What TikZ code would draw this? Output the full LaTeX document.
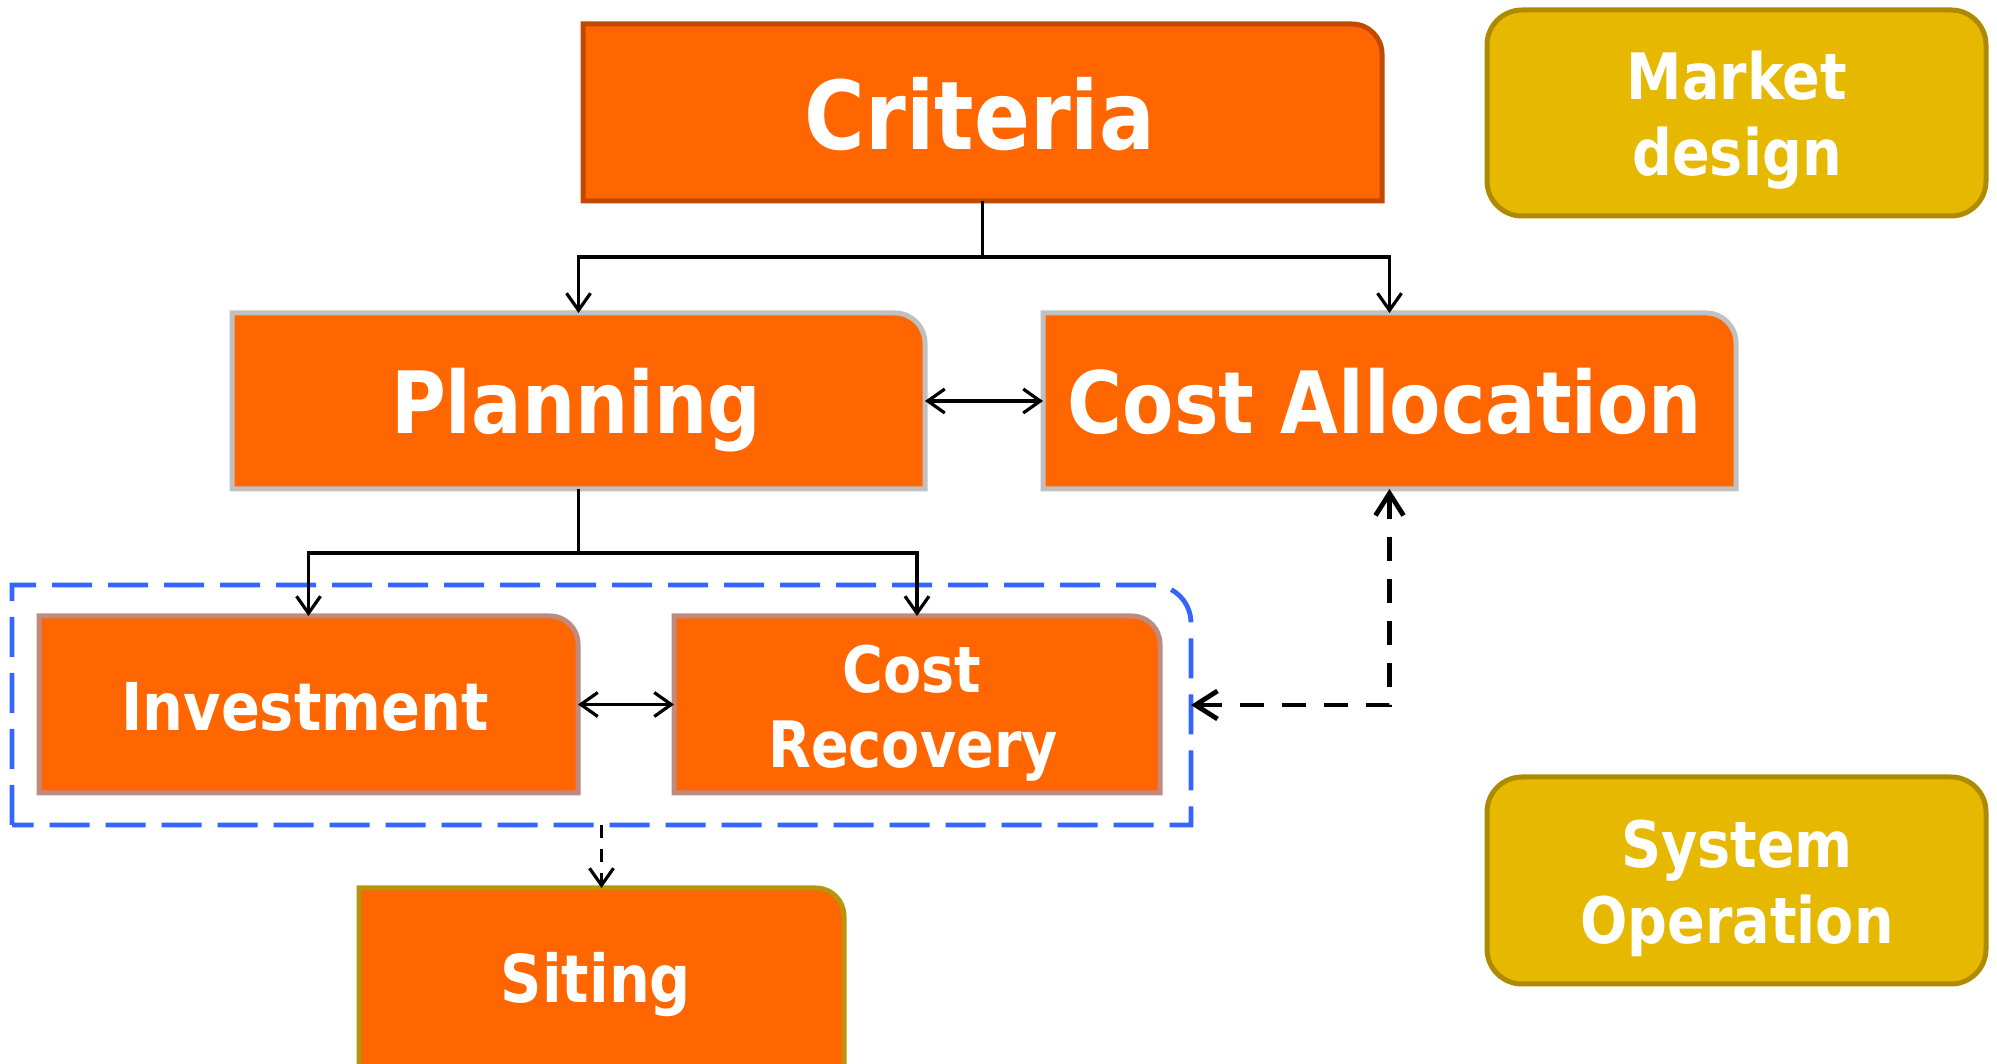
\documentclass[tikz,border=0pt]{standalone}
\usepackage{fontspec}
\usetikzlibrary{arrows.meta,calc}
\newfontfamily\boxfont[FakeStretch=0.87]{DejaVu Sans}

\definecolor{boxorange}{HTML}{FF6600}
\definecolor{critedge}{HTML}{C04A00}
\definecolor{grayedge}{HTML}{C0C0C0}
\definecolor{rosyedge}{HTML}{C08A7E}
\definecolor{oliveedge}{HTML}{B8950A}
\definecolor{goldfill}{HTML}{E6B800}
\definecolor{goldedge}{HTML}{AD8B00}
\definecolor{groupblue}{HTML}{3366FF}

\pgfdeclarelayer{bg}
\pgfsetlayers{bg,main}

% box with only its top-right corner rounded, drawn around a named node
\newcommand\tabshape[3]{%
  \draw[#3] (#1.south west) -- (#1.north west)
    -- ([xshift=-#2]#1.north east) arc[start angle=90,end angle=0,radius=#2]
    -- (#1.south east) -- cycle;}

\tikzset{
  slot/.style 2 args={minimum width=#1,minimum height=#2,inner sep=0pt,outer sep=0pt},
  lbl/.style={text=white,inner sep=0pt,anchor=base,
    font=\boxfont\bfseries\fontsize{#1}{#1}\selectfont},
  orangebox/.style={fill=boxorange,draw=#1,line width=5pt},
  goldbox/.style={fill=goldfill,draw=goldedge,line width=5pt,rounded corners=35pt},
  groupline/.style={draw=groupblue,line width=4.8pt,dash pattern=on 40pt off 16pt},
  wire/.style={draw=black,line width=3.2pt},
  arr/.style={wire,-{Straight Barb[length=17pt,width=24pt]}},
  arrboth/.style={wire,{Straight Barb[length=17pt,width=24pt]}-{Straight Barb[length=17pt,width=24pt]}},
  linkdash/.style={draw=black,line width=4.8pt,dash pattern=on 24pt off 18pt,
    {Straight Barb[length=22pt,width=28pt]}-{Straight Barb[length=22pt,width=28pt]}},
}

\begin{document}
\begin{tikzpicture}[x=1pt,y=1pt]
\useasboundingbox (0,0) rectangle (1997,1063);
\clip (0,0) rectangle (1997,1063);

% frames
\node[slot={799pt}{177pt}] (crit) at (982.5,950.5) {};
\node[slot={499pt}{206pt}] (md) at (1736.5,950) {};
\node[slot={693pt}{176pt}] (plan) at (578.5,662) {};
\node[slot={693pt}{176pt}] (alloc) at (1389.5,662) {};
\node[slot={1179pt}{240pt}] (grp) at (601.5,358) {};
\node[slot={539pt}{177pt}] (inv) at (308.5,358.5) {};
\node[slot={486pt}{177pt}] (rec) at (917,358.5) {};
\node[slot={485pt}{182pt}] (sit) at (601.5,84) {};
\node[slot={499pt}{207pt}] (so) at (1736.5,182.5) {};

\begin{pgfonlayer}{bg}
  \tabshape{crit}{30pt}{orangebox=critedge}
  \tabshape{plan}{30pt}{orangebox=grayedge}
  \tabshape{alloc}{30pt}{orangebox=grayedge}
  \tabshape{inv}{28pt}{orangebox=rosyedge}
  \tabshape{rec}{28pt}{orangebox=rosyedge}
  \tabshape{sit}{28pt}{orangebox=oliveedge}
  \draw[goldbox] (md.south west) rectangle (md.north east);
  \draw[goldbox] (so.south west) rectangle (so.north east);
  \draw[groupline] (grp.south west) -- (grp.north west)
    -- ([xshift=-38pt]grp.north east) arc[start angle=90,end angle=0,radius=38pt]
    -- (grp.south east) -- cycle;
\end{pgfonlayer}

% labels
\node[lbl=95pt] (critT) at (980,913) {Criteria};
\node[lbl=64pt] (mdT1) at (1737,963) {Market};
\node[lbl=64pt] (mdT2) at (1737,887) {design};
\node[lbl=86pt] (planT) at (576,629) {Planning};
\node[lbl=86pt] (allocT) at (1385,629) {Cost Allocation};
\node[lbl=66pt] (invT) at (305,332) {Investment};
\node[lbl=64pt] (recT1) at (912,370) {Cost};
\node[lbl=64pt] (recT2) at (913,295) {Recovery};
\node[lbl=66pt] (sitT) at (596,60) {Siting};
\node[lbl=64pt] (soT1) at (1737,195) {System};
\node[lbl=64pt] (soT2) at (1737,119) {Operation};

% connectors
\coordinate (j1) at ($(crit.south)+(0,-56)$);
\coordinate (j2) at ($(plan.south)+(0,-64)$);
\draw[wire] (crit.south) -- (j1);
\draw[arr] (j1) -| (plan.north);
\draw[arr] (j1) -| (alloc.north);
\draw[arrboth] (plan.east) -- (alloc.west);
\draw[wire] (plan.south) -- (j2);
\draw[arr] (j2) -| (inv.north);
\draw[arr] (j2) -| (rec.north);
\draw[arrboth] (inv.east) -- (rec.west);
\draw[linkdash] (grp.east) -| (alloc.south);
\draw[arr,dash pattern=on 13pt off 11pt] (grp.south) -- (sit.north);
\end{tikzpicture}
\end{document}
